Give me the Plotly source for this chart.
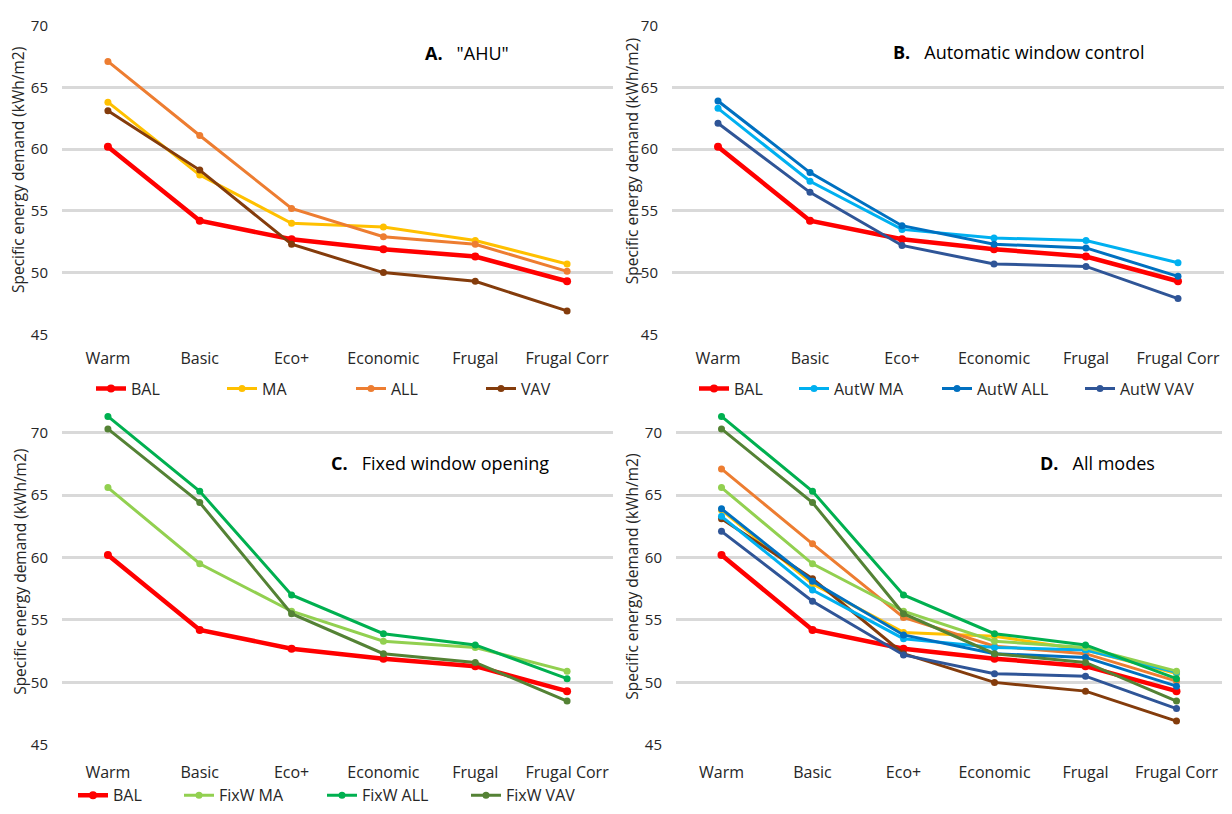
import plotly.graph_objects as go

W, H = 1232, 814

categories = ["Warm", "Basic", "Eco+", "Economic", "Frugal", "Frugal Corr"]
bal = [60.2, 54.2, 52.7, 51.9, 51.3, 49.3]
ma = [63.8, 57.9, 54.0, 53.7, 52.6, 50.7]
all_ = [67.1, 61.1, 55.2, 52.9, 52.3, 50.1]
vav = [63.1, 58.3, 52.3, 50.0, 49.3, 46.9]
autw_ma = [63.3, 57.4, 53.5, 52.8, 52.6, 50.8]
autw_all = [63.9, 58.1, 53.8, 52.3, 52.0, 49.7]
autw_vav = [62.1, 56.5, 52.2, 50.7, 50.5, 47.9]
fixw_ma = [65.6, 59.5, 55.7, 53.3, 52.8, 50.9]
fixw_all = [71.3, 65.3, 57.0, 53.9, 53.0, 50.3]
fixw_vav = [70.3, 64.4, 55.5, 52.3, 51.6, 48.5]
y_ticks = [45, 50, 55, 60, 65, 70]

FONT = "Open Sans"
colors = {
    "BAL": "#FF0000", "MA": "#FFC000", "ALL": "#ED7D31", "VAV": "#843C0C",
    "AutW MA": "#00B0F0", "AutW ALL": "#0070C0", "AutW VAV": "#2F5597",
    "FixW MA": "#92D050", "FixW ALL": "#00B050", "FixW VAV": "#548235",
}
series = {
    "BAL": bal, "MA": ma, "ALL": all_, "VAV": vav,
    "AutW MA": autw_ma, "AutW ALL": autw_all, "AutW VAV": autw_vav,
    "FixW MA": fixw_ma, "FixW ALL": fixw_all, "FixW VAV": fixw_vav,
}

def px_x(p):
    return p / W

def px_y(p):
    return 1 - p / H

panels = [
    ("", (62, 613), (15, 331.5), [45, 70], ["BAL", "MA", "ALL", "VAV"],
     [96, 227, 356, 486], 387, "<b>A.</b>\u00a0\u00a0\u00a0\"AHU\"", (423, 43), (18, 163)),
    ("2", (672, 1224), (15, 331.5), [45, 70], ["BAL", "AutW MA", "AutW ALL", "AutW VAV"],
     [699, 799, 942, 1085], 387, "<b>B.</b>\u00a0\u00a0\u00a0Automatic window control", (891, 42), (632, 154)),
    ("3", (62, 613), (406.7, 752.3), [45, 72], ["BAL", "FixW MA", "FixW ALL", "FixW VAV"],
     [78, 184, 327, 471], 804, "<b>C.</b>\u00a0\u00a0\u00a0Fixed window opening", (329, 463), (20, 575)),
    ("4", (676, 1222), (406.7, 752.3), [45, 72],
     ["BAL", "MA", "ALL", "VAV", "AutW MA", "AutW ALL", "AutW VAV", "FixW MA", "FixW ALL", "FixW VAV"],
     None, None, "<b>D.</b>\u00a0\u00a0\u00a0All modes", (1038, 463), (632, 580)),
]

fig = go.Figure()
layout = dict(
    width=W, height=H, margin=dict(l=0, r=0, t=0, b=0),
    paper_bgcolor="white", plot_bgcolor="white",
    font=dict(family=FONT, size=15, color="#262626"),
    annotations=[],
)
legend_count = 0
for suf, xd, yd, yr, names, leg_x, leg_y, title, tpos, ytpos in panels:
    xa = "x" + suf
    ya = "y" + suf
    layout["xaxis" + suf] = dict(
        domain=[px_x(xd[0]), px_x(xd[1])], anchor=ya, type="category",
        range=[-0.5, 5.5], showgrid=False, showline=False, zeroline=False,
        tickfont=dict(size=16, family=FONT, color="#262626"), ticks="",
        ticklabelstandoff=13 if suf in ("", "2") else 16,
        fixedrange=True,
    )
    layout["yaxis" + suf] = dict(
        domain=[px_y(yd[1]), px_y(yd[0])], anchor=xa, range=yr,
        tickvals=y_ticks, showgrid=True, gridcolor="#D9D9D9", gridwidth=2.5,
        showline=False, zeroline=False, ticks="", ticklabelstandoff=13,
        ticklabeloverflow="allow",
        tickfont=dict(size=15, family=FONT, color="#262626"), fixedrange=True,
    )
    for i, name in enumerate(names):
        is_bal = name == "BAL"
        tr = dict(
            x=categories, y=series[name], name=name, mode="lines+markers",
            line=dict(color=colors[name], width=4.5 if is_bal else 3),
            marker=dict(color=colors[name], size=8 if is_bal else 7),
            xaxis=xa, yaxis=ya, hoverinfo="skip",
        )
        if leg_x is None:
            tr["showlegend"] = False
        else:
            legend_count += 1
            lname = "legend" if legend_count == 1 else "legend%d" % legend_count
            tr["legend"] = lname
            tr["showlegend"] = True
            layout[lname] = dict(
                x=px_x(leg_x[i] - 5), y=px_y(leg_y), xanchor="left", yanchor="middle",
                bgcolor="rgba(0,0,0,0)", borderwidth=0,
                font=dict(size=16, family=FONT, color="#262626"),
                orientation="h", itemwidth=30, tracegroupgap=0,
            )
        fig.add_trace(go.Scatter(**tr))
    layout["annotations"].append(dict(
        text=title, x=px_x(tpos[0]), y=px_y(tpos[1]), xref="paper", yref="paper",
        xanchor="left", yanchor="middle", showarrow=False,
        font=dict(size=18, family=FONT, color="#000000"),
    ))
    layout["annotations"].append(dict(
        text="Specific energy demand (kWh/m2)", x=px_x(ytpos[0]), y=px_y(ytpos[1]),
        xref="paper", yref="paper", xanchor="center", yanchor="middle",
        textangle=-90, showarrow=False,
        font=dict(size=15.5, family=FONT, color="#262626"),
    ))

fig.update_layout(**layout)
fig.write_html("out.html")
